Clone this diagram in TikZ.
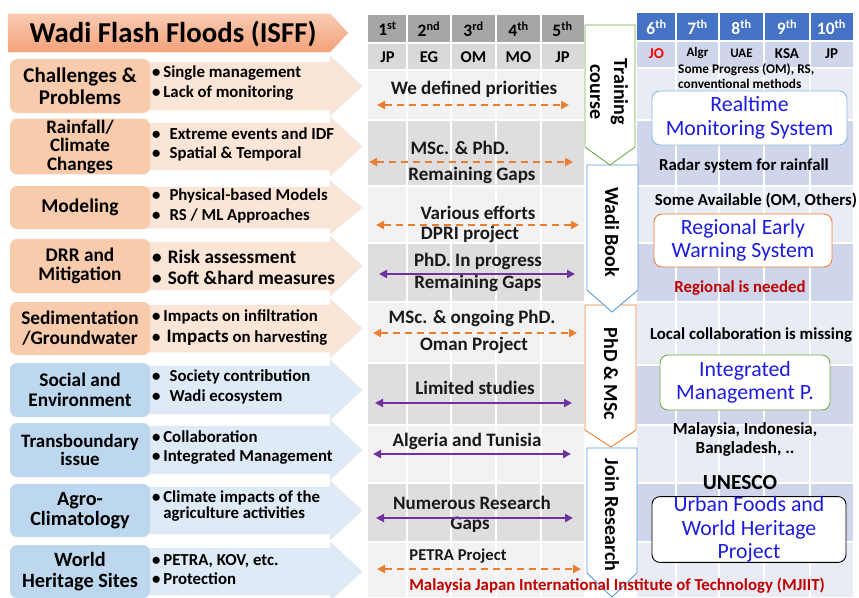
\documentclass[tikz,border=0pt]{standalone}
\usepackage{fontspec}
\setmainfont{Carlito}
\usetikzlibrary{arrows.meta}
\definecolor{orA}{HTML}{F8CBAD}
\definecolor{orL}{HTML}{FBE5D6}
\definecolor{blA}{HTML}{BDD7EE}
\definecolor{blL}{HTML}{DEEBF7}
\definecolor{hdrG}{HTML}{A6A6A6}
\definecolor{cG}{HTML}{D9D9D9}
\definecolor{rL}{HTML}{F2F2F2}
\definecolor{rD}{HTML}{DEDEDE}
\definecolor{hdrB}{HTML}{4472C4}
\definecolor{rbD}{HTML}{CFD5EA}
\definecolor{rbL}{HTML}{E9EBF5}
\definecolor{tblue}{HTML}{1C1CE0}
\definecolor{dred}{HTML}{C00000}
\definecolor{purp}{HTML}{7030A0}
\definecolor{orng}{HTML}{ED7D31}
\definecolor{grn}{HTML}{70AD47}
\definecolor{sky}{HTML}{5B9BD5}
\definecolor{ttop}{HTML}{F9CAB1}
\definecolor{tbot}{HTML}{F3A27A}
\newcommand\LArrow[3]{\fill[#3, draw=black!10] (145,#1+3) -- (330,#1+3) -- (330,#1-3) -- (362,{(#1+#2)/2}) -- (330,#2+3) -- (330,#2-3) -- (145,#2-3) -- cycle;}
\newcommand\fs[2]{\fontsize{#1}{#2}\selectfont}
\tikzset{
  lbox/.style={rounded corners=7pt, minimum width=140pt, align=center, inner sep=1pt, font=\bfseries\fs{19.3}{20}},
  bul/.style={anchor=west, align=left, inner sep=0pt, font=\bfseries\fs{16.8}{20}},
  mtxt/.style={inner sep=0pt, font=\bfseries\fs{19}{21}, text=black!90},
  oarr/.style={draw=orng, line width=2.2pt, dash pattern=on 7pt off 5pt, {Triangle[length=8pt,width=8pt]}-{Triangle[length=8pt,width=8pt]}},
  parr/.style={draw=purp, line width=2.2pt, {Triangle[length=8pt,width=8pt]}-{Triangle[length=8pt,width=8pt]}},
  hdr/.style={inner sep=0pt, font=\bfseries\fs{17.5}{20}},
  ctry/.style={inner sep=0pt, font=\bfseries\fs{16.5}{18}},
  rtxt/.style={inner sep=0pt, font=\bfseries\fs{16.8}{19}},
  rbox/.style={rounded corners=8pt, fill=white, line width=0.9pt, inner sep=0pt, align=center, text=tblue, font=\fs{21.8}{23.5}},
  chev/.style={fill=white, line width=0.9pt},
  vtxt/.style={rotate=-90, inner sep=0pt, align=center, font=\bfseries\fs{20}{24}}
}
\begin{document}
\begin{tikzpicture}[x=1pt,y=-1pt]
\useasboundingbox (0,0) rectangle (859,597);
\fill[white] (0,0) rectangle (859,597);
% title
\shade[top color=ttop, bottom color=tbot, draw=tbot!80] (8,14) -- (330,14) -- (348,33) -- (330,52) -- (8,52) -- cycle;
\node[inner sep=0pt, font=\bfseries\fs{28.8}{32}] (title) at (173,34) {Wadi Flash Floods (ISFF)};
% left rows
\LArrow{59}{113}{orL}
\LArrow{120}{173}{orL}
\LArrow{184}{231}{orL}
\LArrow{239}{293}{orL}
\LArrow{302}{355}{orL}
\LArrow{363}{417}{blL}
\LArrow{423}{477}{blL}
\LArrow{484}{537}{blL}
\LArrow{545}{598}{blL}
\node[lbox, fill=orA, minimum height=54pt, font=\bfseries\fs{21}{22}] (c1) at (80,86) {Challenges \&\\Problems};
\node[lbox, fill=orA, minimum height=53pt, font=\bfseries\fs{19}{18.5}] (c2) at (80,146.5) {Rainfall/\\Climate\\Changes};
\node[lbox, fill=orA, minimum height=43pt, font=\bfseries\fs{19.5}{20}] (c3) at (80,207.5) {Modeling};
\node[lbox, fill=orA, minimum height=54pt, font=\bfseries\fs{19.3}{19.5}] (c4) at (80,266) {DRR and\\Mitigation};
\node[lbox, fill=orA, minimum height=53pt] (c5) at (80,328.5) {Sedimentation\\/Groundwater};
\node[lbox, fill=blA, minimum height=54pt] (c6) at (80,390) {Social and\\Environment};
\node[lbox, fill=blA, minimum height=54pt, font=\bfseries\fs{18.9}{18}] (c7) at (80,450) {Transboundary\\issue};
\node[lbox, fill=blA, minimum height=53pt, font=\bfseries\fs{20.2}{19.5}] (c8) at (80,510.5) {Agro-\\Climatology};
\node[lbox, fill=blA, minimum height=53pt, font=\bfseries\fs{20.3}{21}] (c9) at (80,571.5) {World\\Heritage Sites};
% bullets
\node[bul] (b1) at (152,83) {\textbullet\,Single management\\\textbullet\,Lack of monitoring};
\node[bul, font=\bfseries\fs{16.8}{19}] (b2) at (152,144.5) {\textbullet\hspace{9pt}Extreme events and IDF\\\textbullet\hspace{9pt}Spatial \& Temporal};
\node[bul] (b3) at (152,206) {\textbullet\hspace{9pt}Physical-based Models\\\textbullet\hspace{9pt}RS / ML Approaches};
\node[bul, font=\bfseries\fs{19.2}{21}] (b4) at (152,267.5) {\textbullet\hspace{6pt}Risk assessment\\\textbullet\hspace{6pt}Soft \&hard measures};
\node[bul, font=\bfseries\fs{16.8}{21}] (b5) at (152,327.5) {\textbullet\,Impacts on infiltration\\\textbullet\hspace{6pt}{\fs{19}{21}Impacts} on harvesting};
\node[bul] (b6) at (152,387) {\textbullet\hspace{9pt}Society contribution\\\textbullet\hspace{9pt}Wadi ecosystem};
\node[bul, font=\bfseries\fs{16.8}{19}] (b7) at (152,447.5) {\textbullet\,Collaboration\\\textbullet\,Integrated Management};
\node[bul, font=\bfseries\fs{16.8}{16}] (b8) at (152,506.5) {\textbullet\,Climate impacts of the\\\phantom{\textbullet\,}agriculture activities};
\node[bul, font=\bfseries\fs{16.8}{19.5}] (b9) at (152,569.5) {\textbullet\,PETRA, KOV, etc.\\\textbullet\,Protection};
% middle table
\fill[hdrG] (368,15) rectangle (584,43);
\fill[cG] (368,43) rectangle (584,70);
\fill[rL] (368,70) rectangle (584,120);
\fill[rD] (368,120) rectangle (584,186);
\fill[rL] (368,186) rectangle (584,243);
\fill[rD] (368,243) rectangle (584,302);
\fill[rL] (368,302) rectangle (584,363);
\fill[rD] (368,363) rectangle (584,425);
\fill[rL] (368,425) rectangle (584,483);
\fill[rD] (368,483) rectangle (584,542);
\fill[rL] (368,542) rectangle (584,597);
\foreach \x in {407,451,496,541} \draw[white, line width=1.2pt] (\x,15) -- (\x,597);
\foreach \y in {43,70,120,186,243,302,363,425,483,542} \draw[white, line width=1.2pt] (368,\y) -- (584,\y);
\node[hdr] (h1) at (387.5,29) {1\textsuperscript{st}};
\node[hdr] (h2) at (429,29) {2\textsuperscript{nd}};
\node[hdr] (h3) at (473.5,29) {3\textsuperscript{rd}};
\node[hdr] (h4) at (518.5,29) {4\textsuperscript{th}};
\node[hdr] (h5) at (562.5,29) {5\textsuperscript{th}};
\node[ctry] (k1) at (387.5,57) {JP};
\node[ctry] (k2) at (429,57) {EG};
\node[ctry] (k3) at (473.5,57) {OM};
\node[ctry] (k4) at (518.5,57) {MO};
\node[ctry] (k5) at (562.5,57) {JP};
% right table
\fill[hdrB] (637,13) rectangle (853,41);
\fill[rbD] (637,41) rectangle (853,68);
\fill[rbL] (637,68) rectangle (853,120);
\fill[rbD] (637,120) rectangle (853,186);
\fill[rbL] (637,186) rectangle (853,243);
\fill[rbD] (637,243) rectangle (853,302);
\fill[rbL] (637,302) rectangle (853,365);
\fill[rbD] (637,365) rectangle (853,425);
\fill[rbL] (637,425) rectangle (853,483);
\fill[rbD] (637,483) rectangle (853,542);
\fill[rbL] (637,542) rectangle (853,597);
\foreach \x in {676,719,764,810} \draw[white, line width=1.2pt] (\x,13) -- (\x,597);
\foreach \y in {41,68,120,186,243,302,365,425,483,542} \draw[white, line width=1.2pt] (637,\y) -- (853,\y);
\node[hdr, text=white, font=\bfseries\fs{17.5}{19}] (g1) at (656.5,27) {6\textsuperscript{th}};
\node[hdr, text=white, font=\bfseries\fs{17.5}{19}] (g2) at (697.5,27) {7\textsuperscript{th}};
\node[hdr, text=white, font=\bfseries\fs{17.5}{19}] (g3) at (741.5,27) {8\textsuperscript{th}};
\node[hdr, text=white, font=\bfseries\fs{17.5}{19}] (g4) at (787,27) {9\textsuperscript{th}};
\node[hdr, text=white, font=\bfseries\fs{17.5}{19}] (g5) at (831.5,27) {10\textsuperscript{th}};
\node[ctry, text=red, font=\bfseries\fs{15}{17}] (j1) at (656.5,54) {JO};
\node[ctry, font=\bfseries\fs{13}{15}] (j2) at (697.5,53) {Algr};
\node[ctry, font=\bfseries\fs{13}{15}] (j3) at (741.5,53) {UAE};
\node[ctry, font=\bfseries\fs{15}{17}] (j4) at (787,54) {KSA};
\node[ctry, font=\bfseries\fs{15}{17}] (j5) at (831.5,54) {JP};
% chevrons
\draw[chev, draw=sky] (587,448) -- (637,448) -- (637,573) -- (612,597) -- (587,573) -- cycle;
\draw[chev, draw=orng] (585,305) -- (636,305) -- (636,430) -- (611,447) -- (585,430) -- cycle;
\draw[chev, draw=sky] (587,165) -- (638,165) -- (638,290) -- (612,312) -- (587,290) -- cycle;
\draw[chev, draw=grn] (585,25) -- (635,25) -- (635,147) -- (610,165) -- (585,147) -- cycle;
\node[vtxt] (v1) at (609,92) {Training\\course};
\node[vtxt] (v2) at (612,232) {Wadi Book};
\node[vtxt] (v3) at (611,374) {PhD \& MSc};
\node[vtxt] (v4) at (612,515) {Join Research};
% middle contents
\node[mtxt] (m1) at (474,89) {We defined priorities};
\coordinate (a1l) at (377,105); \coordinate (a1r) at (569,105);
\draw[oarr] (a1l) -- (a1r);
\node[mtxt] (m2a) at (460,148) {MSc. \& PhD.};
\node[mtxt] (m2b) at (472,175) {Remaining Gaps};
\coordinate (a2l) at (369,162); \coordinate (a2r) at (573,162);
\draw[oarr] (a2l) -- (a2r);
\node[mtxt] (m3a) at (478,213) {Various efforts};
\node[mtxt] (m3b) at (470,234) {DPRI project};
\coordinate (a3l) at (376,225); \coordinate (a3r) at (579,225);
\draw[oarr] (a3l) -- (a3r);
\node[mtxt] (m4a) at (478,261) {PhD. In progress};
\node[mtxt] (m4b) at (478,283) {Remaining Gaps};
\coordinate (a4l) at (379,274); \coordinate (a4r) at (575,274);
\draw[parr] (a4l) -- (a4r);
\node[mtxt] (m5a) at (472,318) {MSc. \& ongoing PhD.};
\node[mtxt] (m5b) at (474,345) {Oman Project};
\coordinate (a5l) at (373,333); \coordinate (a5r) at (577,333);
\draw[oarr] (a5l) -- (a5r);
\node[mtxt] (m6) at (475,388) {Limited studies};
\coordinate (a6l) at (375,403); \coordinate (a6r) at (572,403);
\draw[parr] (a6l) -- (a6r);
\node[mtxt] (m7) at (467,441) {Algeria and Tunisia};
\coordinate (a7l) at (373,454); \coordinate (a7r) at (571,454);
\draw[parr] (a7l) -- (a7r);
\node[mtxt] (m8a) at (472,503) {Numerous Research};
\node[mtxt] (m8b) at (470,525) {Gaps};
\coordinate (a8l) at (376,518); \coordinate (a8r) at (573,518);
\draw[parr] (a8l) -- (a8r);
\node[mtxt, font=\bfseries\fs{16.6}{19}] (m9) at (458,556) {PETRA Project};
\coordinate (a9l) at (377,569); \coordinate (a9r) at (581,569);
\draw[oarr] (a9l) -- (a9r);
\node[mtxt, text=dred, font=\bfseries\fs{16.8}{19}] (mj) at (617,586) {Malaysia Japan International Institute of Technology (MJIIT)};
% right contents
\node[inner sep=0pt, align=left, anchor=west, font=\bfseries\fs{13.3}{14.5}] (r0) at (678,76) {Some Progress (OM), RS,\\conventional methods};
\node[rbox, draw=sky!70, minimum width=195pt, minimum height=54pt] (rb1) at (749.5,118) {Realtime\\Monitoring System};
\node[rtxt] (r1) at (744,166) {Radar system for rainfall};
\node[rtxt] (r2) at (756,201) {Some Available (OM, Others)};
\node[rbox, draw=orng, minimum width=178pt, minimum height=53pt] (rb2) at (743,240.5) {Regional Early\\Warning System};
\node[rtxt, text=dred] (r3) at (740,288) {Regional is needed};
\node[rtxt] (r4) at (751,335) {Local collaboration is missing};
\node[rbox, draw=grn, minimum width=170pt, minimum height=55pt] (rb3) at (745,382.5) {Integrated\\Management P.};
\node[rtxt, align=center, font=\bfseries\fs{17}{19}] (r5) at (745,439) {Malaysia, Indonesia,\\Bangladesh, ..};
\node[rtxt, font=\bfseries\fs{21.5}{22}] (r6) at (740,483) {UNESCO};
\node[rbox, draw=black, minimum width=194pt, minimum height=63pt] (rb4) at (749,529.5) {Urban Foods and\\World Heritage\\Project};
\end{tikzpicture}
\end{document}
